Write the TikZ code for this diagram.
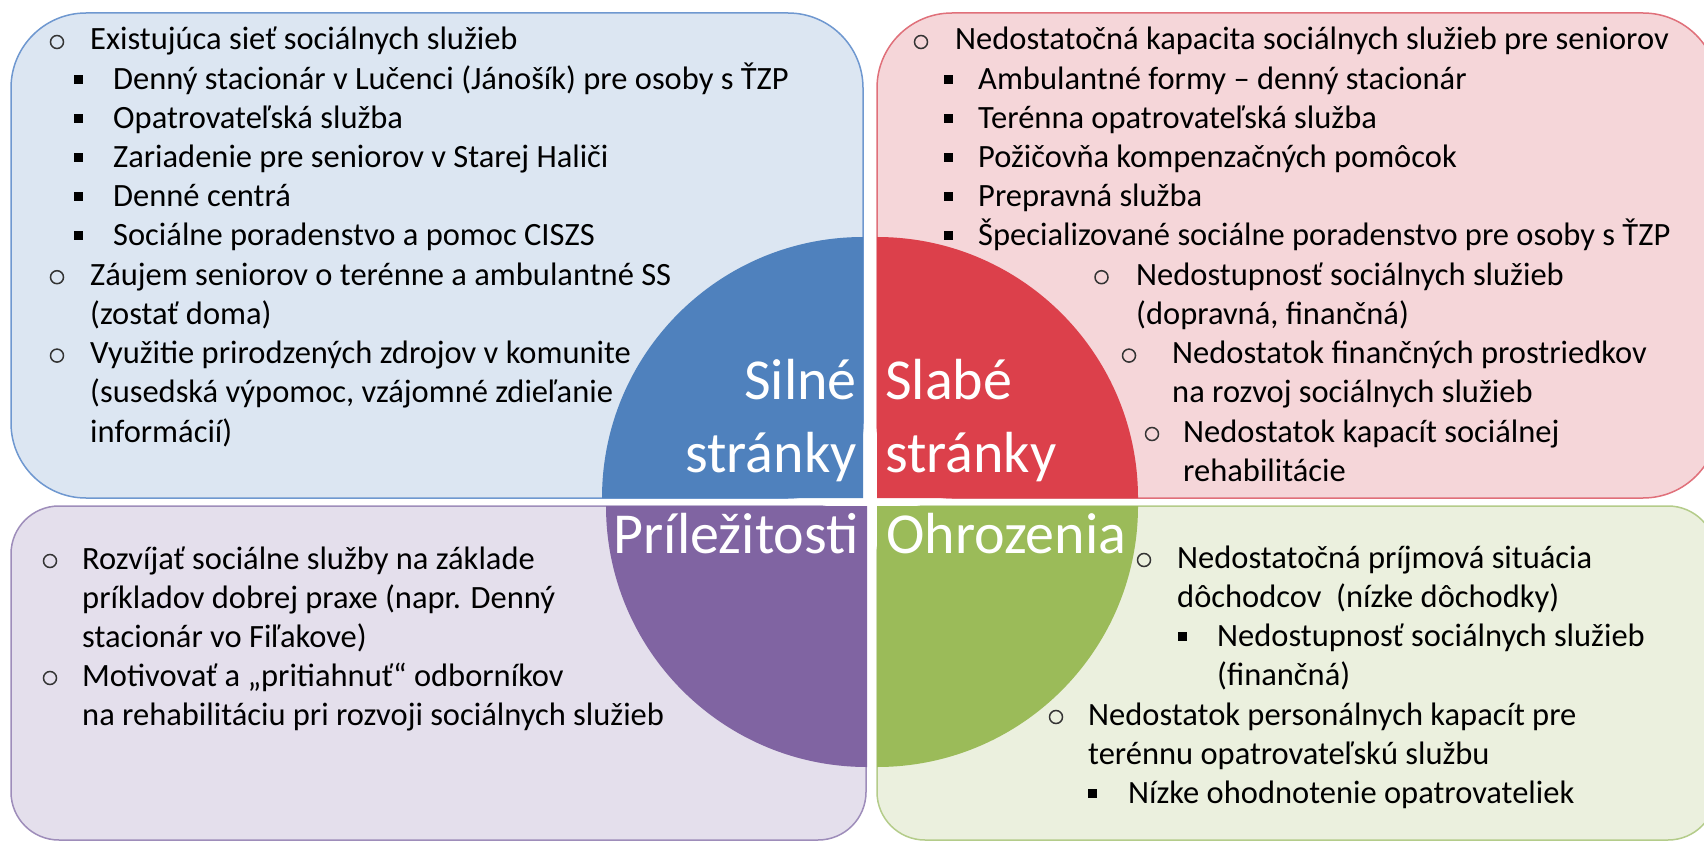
\documentclass[tikz,border=0pt]{standalone}
\usepackage{fontspec}
\setmainfont{Carlito}
\definecolor{bluefill}{HTML}{DCE6F2}
\definecolor{blueline}{HTML}{6F98D0}
\definecolor{redfill}{HTML}{F5D6D9}
\definecolor{redline}{HTML}{E0707A}
\definecolor{purplefill}{HTML}{E4DFEC}
\definecolor{purpleline}{HTML}{9E8DBA}
\definecolor{greenfill}{HTML}{EBF0DE}
\definecolor{greenline}{HTML}{B4CC8A}
\definecolor{blueq}{HTML}{4F81BD}
\definecolor{redq}{HTML}{DC404B}
\definecolor{purpleq}{HTML}{8064A2}
\definecolor{greenq}{HTML}{9BBB59}
\newcommand{\txl}[4]{\node[txt] (#1) at (#2,#3) {#4};}
\newcommand{\cbul}[3]{\node[cbullet] (#1) at (#2,#3-8) {};}
\newcommand{\sbul}[3]{\node[sbullet] (#1) at (#2,#3-10) {};}
\begin{document}
\begin{tikzpicture}[x=1pt,y=-1pt,
  txt/.style={anchor=base west, inner sep=0pt, font=\fontsize{32.5}{39}\selectfont, text=black},
  cbullet/.style={circle, draw=black!80, line width=1.5pt, minimum size=13pt, inner sep=0pt},
  sbullet/.style={rectangle, fill=black, minimum size=9pt, inner sep=0pt},
  lbl/.style={inner sep=0pt, text=white, font=\fontsize{58}{70}\selectfont},
  box/.style={line width=1.5pt}]
\useasboundingbox (0,0) rectangle (1704,842);
\clip (0,0) rectangle (1704,842);
\fill[white] (0,0) rectangle (1704,842);
% boxes
\draw[box, draw=blueline, fill=bluefill, rounded corners=75pt] (11,13) rectangle (863,498);
\draw[box, draw=redline, fill=redfill, rounded corners=75pt] (877,13) rectangle (1718,498);
\draw[box, draw=purpleline, fill=purplefill, rounded corners=48pt] (11,506) rectangle (866,840);
\draw[box, draw=greenline, fill=greenfill, rounded corners=48pt] (877,506) rectangle (1716,840);
% blue text
\cbul{b1}{57}{50}\txl{tb1}{90}{50}{Existujúca sieť sociálnych služieb}
\sbul{b2}{78.5}{89.2}\txl{tb2}{113}{89.2}{Denný stacionár v Lučenci (Jánošík) pre osoby s ŤZP}
\sbul{b3}{78.5}{128.4}\txl{tb3}{113}{128.4}{Opatrovateľská služba}
\sbul{b4}{78.5}{167.6}\txl{tb4}{113}{167.6}{Zariadenie pre seniorov v Starej Haliči}
\sbul{b5}{78.5}{206.8}\txl{tb5}{113}{206.8}{Denné centrá}
\sbul{b6}{78.5}{246}\txl{tb6}{113}{246}{Sociálne poradenstvo a pomoc CISZS}
\cbul{b7}{57}{285.2}\txl{tb7}{90}{285.2}{Záujem seniorov o terénne a ambulantné SS}
\txl{tb8}{90}{324.4}{(zostať doma)}
\cbul{b9}{57}{363.6}\txl{tb9}{90}{363.6}{Využitie prirodzených zdrojov v komunite}
\txl{tb10}{90}{402.8}{(susedská výpomoc, vzájomné zdieľanie}
\txl{tb11}{90}{442}{informácií)}
% red text
\cbul{r1}{921}{50}\txl{tr1}{955}{50}{Nedostatočná kapacita sociálnych služieb pre seniorov}
\sbul{r2}{948}{89.2}\txl{tr2}{978}{89.2}{Ambulantné formy – denný stacionár}
\sbul{r3}{948}{128.4}\txl{tr3}{978}{128.4}{Terénna opatrovateľská služba}
\sbul{r4}{948}{167.6}\txl{tr4}{978}{167.6}{Požičovňa kompenzačných pomôcok}
\sbul{r5}{948}{206.8}\txl{tr5}{978}{206.8}{Prepravná služba}
\sbul{r6}{948}{246}\txl{tr6}{978}{246}{Špecializované sociálne poradenstvo pre osoby s ŤZP}
\cbul{r7}{1101.5}{285.2}\txl{tr7}{1136}{285.2}{Nedostupnosť sociálnych služieb}
\txl{tr8}{1136}{324.4}{(dopravná, finančná)}
\cbul{r9}{1129}{363.6}\txl{tr9}{1172}{363.6}{Nedostatok finančných prostriedkov}
\txl{tr10}{1172}{402.8}{na rozvoj sociálnych služieb}
\cbul{r11}{1152}{442}\txl{tr11}{1183}{442}{Nedostatok kapacít sociálnej}
\txl{tr12}{1183}{481.2}{rehabilitácie}
% purple text
\cbul{p1}{50}{569}\txl{tp1}{82}{569}{Rozvíjať sociálne služby na základe}
\txl{tp2}{82}{608}{príkladov dobrej praxe (napr. Denný}
\txl{tp3}{82}{647}{stacionár vo Fiľakove)}
\cbul{p4}{50}{686}\txl{tp4}{82}{686}{Motivovať a „pritiahnuť“ odborníkov}
\txl{tp5}{82}{725}{na rehabilitáciu pri rozvoji sociálnych služieb}
% green text
\cbul{g1}{1144}{568}\txl{tg1}{1177}{568}{Nedostatočná príjmová situácia}
\txl{tg2}{1177}{607}{dôchodcov\ \ (nízke dôchodky)}
\sbul{g3}{1182}{646}\txl{tg3}{1217}{646}{Nedostupnosť sociálnych služieb}
\txl{tg4}{1217}{685}{(finančná)}
\cbul{g5}{1056}{725}\txl{tg5}{1088}{725}{Nedostatok personálnych kapacít pre}
\txl{tg6}{1088}{764}{terénnu opatrovateľskú službu}
\sbul{g7}{1092}{803}\txl{tg7}{1128}{803}{Nízke ohodnotenie opatrovateliek}
% quarter circles
\fill[blueq] (863,498) -- ++(-261,0) arc[start angle=180, end angle=270, radius=261] -- cycle;
\fill[redq] (877,498) -- ++(261,0) arc[start angle=0, end angle=-90, radius=261] -- cycle;
\fill[purpleq] (867,506) -- ++(-261,0) arc[start angle=180, end angle=90, radius=261] -- cycle;
\fill[greenq] (877,506) -- ++(261,0) arc[start angle=0, end angle=90, radius=261] -- cycle;
% labels
\node[lbl, anchor=base east] (s1) at (857,399) {Silné};
\node[lbl, anchor=base east] (s2) at (857,472) {stránky};
\node[lbl, anchor=base west] (w1) at (885,399) {Slabé};
\node[lbl, anchor=base west] (w2) at (885,472) {stránky};
\node[lbl, anchor=base east] (o1) at (859,553) {Príležitosti};
\node[lbl, anchor=base west] (t1) at (886,553) {Ohrozenia};
\end{tikzpicture}
\end{document}
